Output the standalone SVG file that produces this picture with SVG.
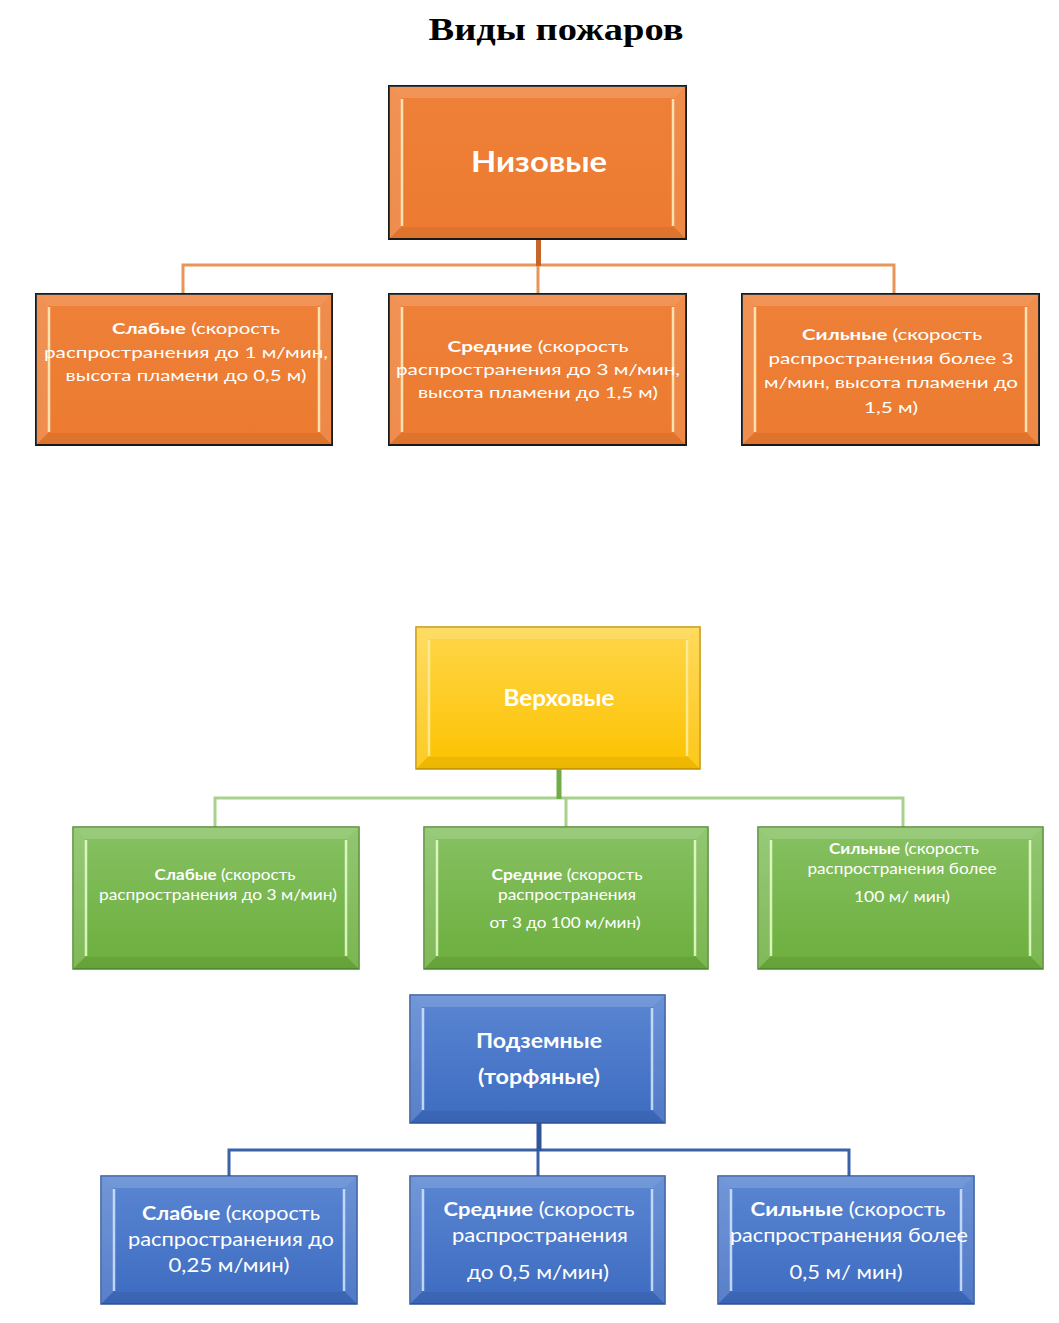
<svg xmlns="http://www.w3.org/2000/svg" width="1059" height="1323" viewBox="0 0 1059 1323">
<defs>
<linearGradient id="gO" x1="0" y1="0" x2="0" y2="1"><stop offset="0" stop-color="#ee8038"/><stop offset="1" stop-color="#ec7b30"/></linearGradient>
<linearGradient id="gY" x1="0" y1="0" x2="0" y2="1"><stop offset="0" stop-color="#ffd64a"/><stop offset="1" stop-color="#fcc200"/></linearGradient>
<linearGradient id="gG" x1="0" y1="0" x2="0" y2="1"><stop offset="0" stop-color="#86c162"/><stop offset="1" stop-color="#6cae3d"/></linearGradient>
<linearGradient id="gB" x1="0" y1="0" x2="0" y2="1"><stop offset="0" stop-color="#5a86d2"/><stop offset="1" stop-color="#3d6bc0"/></linearGradient>
</defs>
<style>
.title{font-family:"Liberation Serif","Times New Roman",serif;font-weight:bold;font-size:32px;fill:#000}
.t{font-family:Lato,"Open Sans","Liberation Sans",sans-serif;fill:#fff;text-anchor:middle}
.b{font-weight:bold}
.ob{fill:url(#gO);stroke:#1a1a1a;stroke-width:2}
.yb{fill:url(#gY);stroke:#c59400;stroke-width:1.5}
.gb{fill:url(#gG);stroke:#4f8a2e;stroke-width:1.5}
.bb{fill:url(#gB);stroke:#2f559a;stroke-width:1.5}
.bt{fill:#fff;opacity:.16}
.bl{fill:#fff;opacity:.14}
.br{fill:#fff;opacity:.10}
.bd{fill:#000;opacity:.06}
.hl{stroke:#fff3c8;stroke-width:2.5;opacity:.85;fill:none}
.ho{stroke:#fff3c8}
.hg{stroke:#eaffd0}
.hb{stroke:#d6e8ff}
.co{stroke:#e8955a;stroke-width:3;fill:none}
.cos{stroke:#c5652a;stroke-width:5;fill:none}
.cg{stroke:#a9d18e;stroke-width:3;fill:none}
.cgs{stroke:#70ad47;stroke-width:5;fill:none}
.cb{stroke:#3a62a8;stroke-width:3;fill:none}
.cbs{stroke:#2f559a;stroke-width:5;fill:none}
</style>
<rect width="1059" height="1323" fill="#fff"/>
<text class="title" x="556" y="40" text-anchor="middle" textLength="255" lengthAdjust="spacingAndGlyphs">Виды пожаров</text>

<g id="connectors">
<path class="co" d="M183 294V265H894V294M538 265V294"/>
<path class="cos" d="M538.5 239V266"/>
<path class="cg" d="M215 827V798H903V827M566 798V827"/>
<path class="cgs" d="M559 769V799"/>
<path class="cb" d="M229 1176V1150H849V1176M538 1150V1176"/>
<path class="cbs" d="M539 1123V1151"/>
</g>

<g id="n-nizovye">
<rect class="ob" x="389" y="86" width="297" height="153"/>
<polygon class="bt" points="389,86 686,86 674,98 401,98"/>
<polygon class="bl" points="389,86 401,98 401,227 389,239"/>
<polygon class="br" points="686,86 674,98 674,227 686,239"/>
<polygon class="bd" points="389,239 401,227 674,227 686,239"/>
<path class="hl ho" d="M402 99V226M673 99V226"/>
<text class="t b" x="539" y="172" font-size="28" textLength="136" lengthAdjust="spacingAndGlyphs">Низовые</text>
</g>

<g id="n-niz-slabye">
<rect class="ob" x="36" y="294" width="296" height="151"/>
<polygon class="bt" points="36,294 332,294 320,306 48,306"/>
<polygon class="bl" points="36,294 48,306 48,433 36,445"/>
<polygon class="br" points="332,294 320,306 320,433 332,445"/>
<polygon class="bd" points="36,445 48,433 320,433 332,445"/>
<path class="hl ho" d="M49 307V432M319 307V432"/>
<text class="t" font-size="16" x="196" y="334" textLength="168" lengthAdjust="spacingAndGlyphs"><tspan class="b">Слабые</tspan> (скорость</text>
<text class="t" font-size="16" x="186" y="358" textLength="284" lengthAdjust="spacingAndGlyphs">распространения до 1 м/мин,</text>
<text class="t" font-size="16" x="186" y="381" textLength="241" lengthAdjust="spacingAndGlyphs">высота пламени до 0,5 м)</text>
</g>

<g id="n-niz-srednie">
<rect class="ob" x="389" y="294" width="297" height="151"/>
<polygon class="bt" points="389,294 686,294 674,306 401,306"/>
<polygon class="bl" points="389,294 401,306 401,433 389,445"/>
<polygon class="br" points="686,294 674,306 674,433 686,445"/>
<polygon class="bd" points="389,445 401,433 674,433 686,445"/>
<path class="hl ho" d="M402 307V432M673 307V432"/>
<text class="t" font-size="16" x="538" y="352" textLength="181" lengthAdjust="spacingAndGlyphs"><tspan class="b">Средние</tspan> (скорость</text>
<text class="t" font-size="16" x="538" y="375" textLength="284" lengthAdjust="spacingAndGlyphs">распространения до 3 м/мин,</text>
<text class="t" font-size="16" x="538" y="398" textLength="240" lengthAdjust="spacingAndGlyphs">высота пламени до 1,5 м)</text>
</g>

<g id="n-niz-silnye">
<rect class="ob" x="742" y="294" width="297" height="151"/>
<polygon class="bt" points="742,294 1039,294 1027,306 754,306"/>
<polygon class="bl" points="742,294 754,306 754,433 742,445"/>
<polygon class="br" points="1039,294 1027,306 1027,433 1039,445"/>
<polygon class="bd" points="742,445 754,433 1027,433 1039,445"/>
<path class="hl ho" d="M755 307V432M1026 307V432"/>
<text class="t" font-size="16" x="892" y="340" textLength="180" lengthAdjust="spacingAndGlyphs"><tspan class="b">Сильные</tspan> (скорость</text>
<text class="t" font-size="16" x="891" y="364" textLength="245" lengthAdjust="spacingAndGlyphs">распространения более 3</text>
<text class="t" font-size="16" x="891" y="388" textLength="254" lengthAdjust="spacingAndGlyphs">м/мин, высота пламени  до</text>
<text class="t" font-size="16" x="891" y="413" textLength="54" lengthAdjust="spacingAndGlyphs">1,5 м)</text>
</g>

<g id="n-verkhovye">
<rect class="yb" x="416" y="627" width="284" height="142"/>
<polygon class="bt" points="416,627 700,627 688,639 428,639"/>
<polygon class="bl" points="416,627 428,639 428,757 416,769"/>
<polygon class="br" points="700,627 688,639 688,757 700,769"/>
<polygon class="bd" points="416,769 428,757 688,757 700,769"/>
<path class="hl" style="stroke:#fff0a0" d="M429 640V756M687 640V756"/>
<text class="t b" x="559" y="706" font-size="22" textLength="111" lengthAdjust="spacingAndGlyphs">Верховые</text>
</g>

<g id="n-verkh-slabye">
<rect class="gb" x="73" y="827" width="286" height="142"/>
<polygon class="bt" points="73,827 359,827 347,839 85,839"/>
<polygon class="bl" points="73,827 85,839 85,957 73,969"/>
<polygon class="br" points="359,827 347,839 347,957 359,969"/>
<polygon class="bd" points="73,969 85,957 347,957 359,969"/>
<path class="hl hg" d="M86 840V956M346 840V956"/>
<text class="t" font-size="15" x="225" y="880" textLength="141" lengthAdjust="spacingAndGlyphs"><tspan class="b">Слабые</tspan> (скорость</text>
<text class="t" font-size="15" x="218" y="900" textLength="238" lengthAdjust="spacingAndGlyphs">распространения до 3 м/мин)</text>
</g>

<g id="n-verkh-srednie">
<rect class="gb" x="424" y="827" width="284" height="142"/>
<polygon class="bt" points="424,827 708,827 696,839 436,839"/>
<polygon class="bl" points="424,827 436,839 436,957 424,969"/>
<polygon class="br" points="708,827 696,839 696,957 708,969"/>
<polygon class="bd" points="424,969 436,957 696,957 708,969"/>
<path class="hl hg" d="M437 840V956M695 840V956"/>
<text class="t" font-size="15" x="567" y="880" textLength="151" lengthAdjust="spacingAndGlyphs"><tspan class="b">Средние</tspan> (скорость</text>
<text class="t" font-size="15" x="567" y="900" textLength="138" lengthAdjust="spacingAndGlyphs">распространения</text>
<text class="t" font-size="15" x="565" y="928" textLength="151" lengthAdjust="spacingAndGlyphs">от 3 до 100 м/мин)</text>
</g>

<g id="n-verkh-silnye">
<rect class="gb" x="758" y="827" width="285" height="142"/>
<polygon class="bt" points="758,827 1043,827 1031,839 770,839"/>
<polygon class="bl" points="758,827 770,839 770,957 758,969"/>
<polygon class="br" points="1043,827 1031,839 1031,957 1043,969"/>
<polygon class="bd" points="758,969 770,957 1031,957 1043,969"/>
<path class="hl hg" d="M771 840V956M1030 840V956"/>
<text class="t" font-size="15" x="904" y="854" textLength="150" lengthAdjust="spacingAndGlyphs"><tspan class="b">Сильные</tspan> (скорость</text>
<text class="t" font-size="15" x="902" y="874" textLength="189" lengthAdjust="spacingAndGlyphs">распространения более</text>
<text class="t" font-size="15" x="902" y="902" textLength="96" lengthAdjust="spacingAndGlyphs">100 м/ мин)</text>
</g>

<g id="n-podzemnye">
<rect class="bb" x="410" y="995" width="255" height="128"/>
<polygon class="bt" points="410,995 665,995 653,1007 422,1007"/>
<polygon class="bl" points="410,995 422,1007 422,1111 410,1123"/>
<polygon class="br" points="665,995 653,1007 653,1111 665,1123"/>
<polygon class="bd" points="410,1123 422,1111 653,1111 665,1123"/>
<path class="hl hb" d="M423 1008V1110M652 1008V1110"/>
<text class="t b" x="539" y="1048" font-size="21" textLength="126" lengthAdjust="spacingAndGlyphs">Подземные</text>
<text class="t b" x="539" y="1084" font-size="21" textLength="122" lengthAdjust="spacingAndGlyphs">(торфяные)</text>
</g>

<g id="n-podz-slabye">
<rect class="bb" x="101" y="1176" width="256" height="128"/>
<polygon class="bt" points="101,1176 357,1176 345,1188 113,1188"/>
<polygon class="bl" points="101,1176 113,1188 113,1292 101,1304"/>
<polygon class="br" points="357,1176 345,1188 345,1292 357,1304"/>
<polygon class="bd" points="101,1304 113,1292 345,1292 357,1304"/>
<path class="hl hb" d="M114 1189V1291M344 1189V1291"/>
<text class="t" font-size="19" x="231" y="1220" textLength="178" lengthAdjust="spacingAndGlyphs"><tspan class="b">Слабые</tspan> (скорость</text>
<text class="t" font-size="19" x="231" y="1246" textLength="206" lengthAdjust="spacingAndGlyphs">распространения до</text>
<text class="t" font-size="19" x="229" y="1272" textLength="121" lengthAdjust="spacingAndGlyphs">0,25 м/мин)</text>
</g>

<g id="n-podz-srednie">
<rect class="bb" x="410" y="1176" width="255" height="128"/>
<polygon class="bt" points="410,1176 665,1176 653,1188 422,1188"/>
<polygon class="bl" points="410,1176 422,1188 422,1292 410,1304"/>
<polygon class="br" points="665,1176 653,1188 653,1292 665,1304"/>
<polygon class="bd" points="410,1304 422,1292 653,1292 665,1304"/>
<path class="hl hb" d="M423 1189V1291M652 1189V1291"/>
<text class="t" font-size="19" x="539" y="1216" textLength="191" lengthAdjust="spacingAndGlyphs"><tspan class="b">Средние</tspan> (скорость</text>
<text class="t" font-size="19" x="540" y="1242" textLength="176" lengthAdjust="spacingAndGlyphs">распространения</text>
<text class="t" font-size="19" x="538" y="1279" textLength="142" lengthAdjust="spacingAndGlyphs">до 0,5 м/мин)</text>
</g>

<g id="n-podz-silnye">
<rect class="bb" x="718" y="1176" width="256" height="128"/>
<polygon class="bt" points="718,1176 974,1176 962,1188 730,1188"/>
<polygon class="bl" points="718,1176 730,1188 730,1292 718,1304"/>
<polygon class="br" points="974,1176 962,1188 962,1292 974,1304"/>
<polygon class="bd" points="718,1304 730,1292 962,1292 974,1304"/>
<path class="hl hb" d="M731 1189V1291M961 1189V1291"/>
<text class="t" font-size="19" x="848" y="1216" textLength="195" lengthAdjust="spacingAndGlyphs"><tspan class="b">Сильные</tspan> (скорость</text>
<text class="t" font-size="19" x="849" y="1242" textLength="238" lengthAdjust="spacingAndGlyphs">распространения более</text>
<text class="t" font-size="19" x="846" y="1279" textLength="113" lengthAdjust="spacingAndGlyphs">0,5 м/ мин)</text>
</g>
</svg>
